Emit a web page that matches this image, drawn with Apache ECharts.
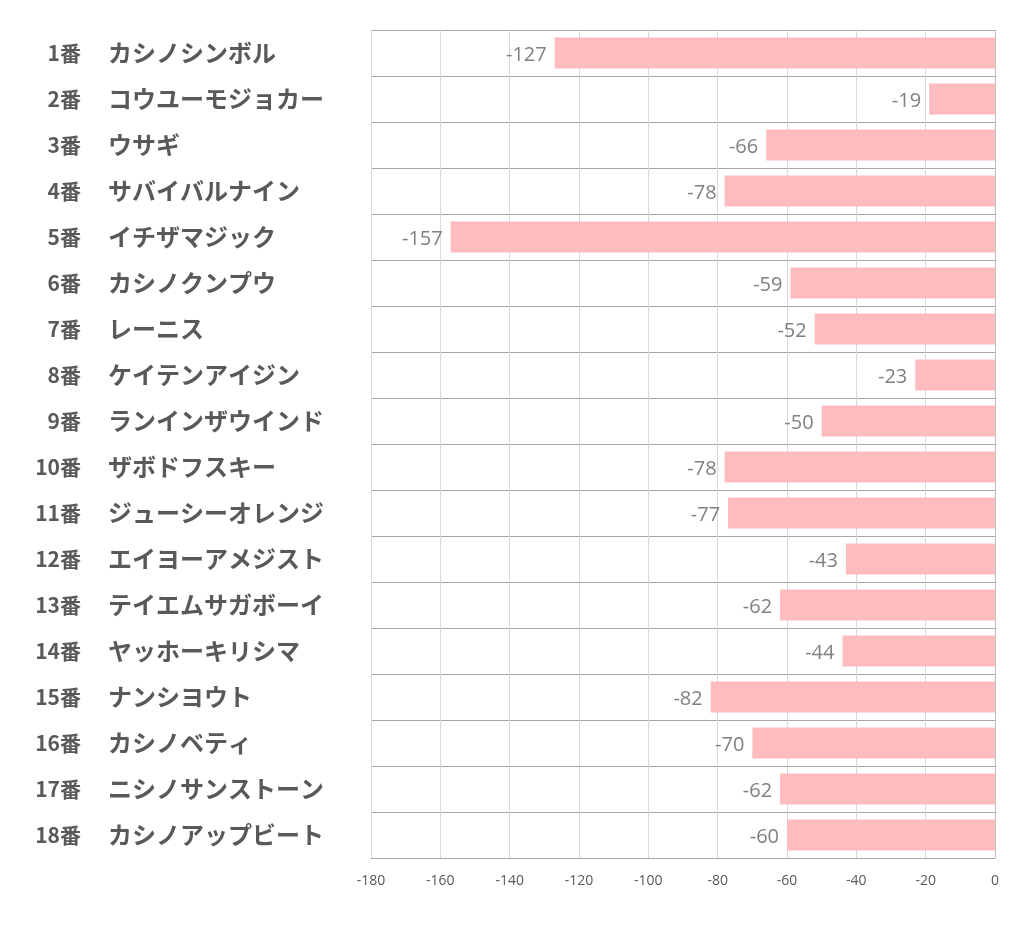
<!DOCTYPE html>
<html><head><meta charset="utf-8">
<script src="https://cdn.jsdelivr.net/npm/echarts@6/dist/echarts.min.js"></script>
<style>html,body{margin:0;padding:0;background:#fff}#c{width:1022px;height:939px}</style>
</head><body><div id="c"></div>
<script>
const numbers = ['1番','2番','3番','4番','5番','6番','7番','8番','9番','10番','11番','12番','13番','14番','15番','16番','17番','18番'];
const names = ['カシノシンボル','コウユーモジョカー','ウサギ','サバイバルナイン','イチザマジック','カシノクンプウ','レーニス','ケイテンアイジン','ランインザウインド','ザボドフスキー','ジューシーオレンジ','エイヨーアメジスト','テイエムサガボーイ','ヤッホーキリシマ','ナンシヨウト','カシノベティ','ニシノサンストーン','カシノアップビート'];
const values = [-127,-19,-66,-78,-157,-59,-52,-23,-50,-78,-77,-43,-62,-44,-82,-70,-62,-60];
const xTicks = {min:-180, max:0, step:20};

const chart = echarts.init(document.getElementById('c'));
chart.setOption({
  animation:false,
  grid:{left:371, right:27, top:30, bottom:81, containLabel:false},
  xAxis:{type:'value', min:xTicks.min, max:xTicks.max, interval:xTicks.step,
    axisLine:{show:true, lineStyle:{color:'#a6a6a6', width:1}},
    axisTick:{show:false},
    axisLabel:{color:'#595959', fontSize:14, fontFamily:'Open Sans', margin:16},
    splitLine:{show:true, showMaxLine:false, lineStyle:{color:'#d9d9d9', width:1}}},
  yAxis:[
    {type:'category', inverse:true, data:numbers,
     axisLine:{show:true, lineStyle:{color:'#bfbfbf', width:1}},
     axisTick:{show:false},
     splitLine:{show:true, lineStyle:{color:'#a6a6a6', width:1}},
     axisLabel:{align:'right', margin:290, fontSize:21, fontWeight:'bold', color:'#595959', fontFamily:'Noto Sans CJK JP'}},
    {type:'category', inverse:true, position:'left', data:names,
     axisLine:{show:false}, axisTick:{show:false}, splitLine:{show:false},
     axisLabel:{align:'left', margin:263, fontSize:24, fontWeight:'bold', color:'#595959', fontFamily:'Noto Sans CJK JP'}}
  ],
  series:[{type:'bar', data:values, barWidth:31, yAxisIndex:0,
    itemStyle:{color:'#ffbcbf'},
    label:{show:true, position:'left', distance:8, color:'#808080', fontSize:20, fontFamily:'Open Sans', offset:[0,2]}}]
});
</script></body></html>
